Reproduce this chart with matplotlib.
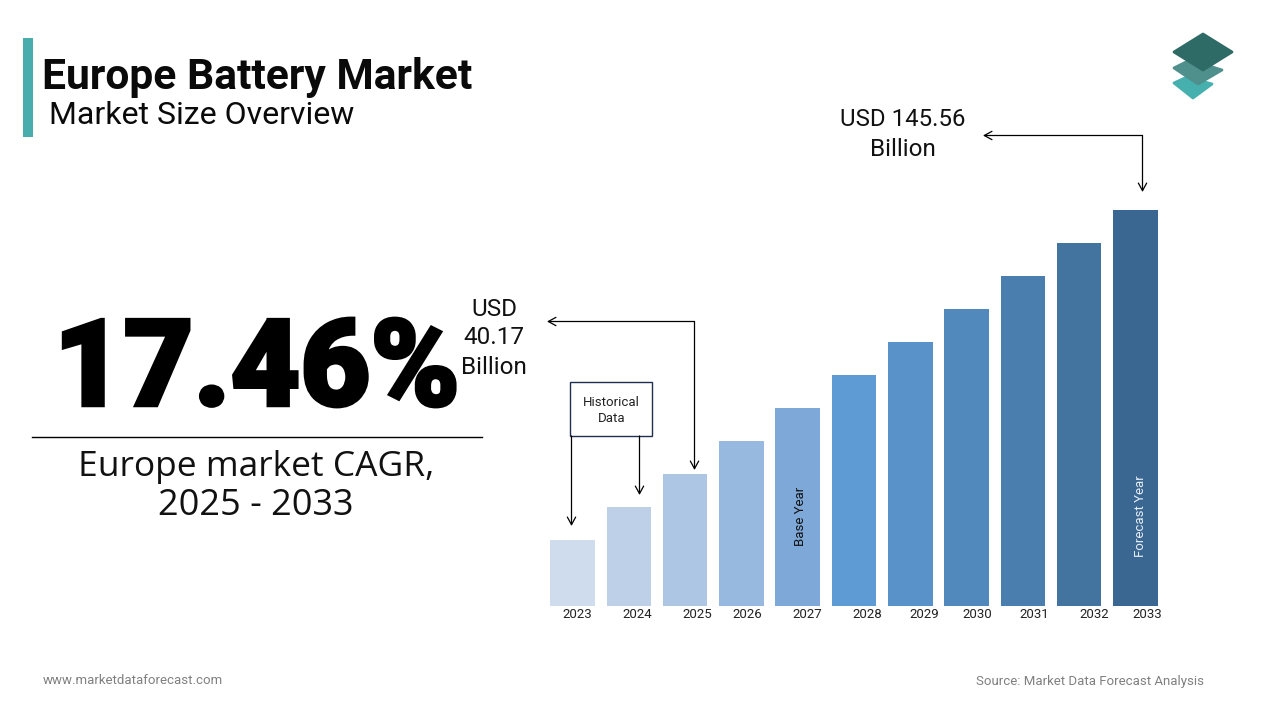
import matplotlib
matplotlib.use('Agg')
import matplotlib.pyplot as plt
import matplotlib.patheffects as pe
from matplotlib.patches import Polygon, Rectangle

plt.rcParams['font.family'] = ['Roboto', 'DejaVu Sans']

years = ['2023', '2024', '2025', '2026', '2027', '2028', '2029', '2030', '2031', '2032', '2033']
# bar heights, the source has no y axis
bar_heights = [66, 99, 132, 165, 198, 231, 264, 297, 330, 363, 396]
bar_colors = ['#CFDCED', '#BDD0E8', '#ADC6E4', '#98B9DF', '#7DA8D8', '#5E9BD5',
              '#5992C8', '#5189BD', '#4A7EAF', '#43739F', '#3A6791']
# year labels sit off centre in the original
year_label_x = [577, 637, 697, 747, 807, 867, 924, 977, 1034, 1094, 1147]

fig = plt.figure(figsize=(12.8, 7.2), dpi=100, facecolor='white')

# Bars
ax = fig.add_axes([540 / 1280, 1 - 606 / 720, 630 / 1280, 406 / 720])
ax.bar(range(len(years)), bar_heights, width=0.79, color=bar_colors)
ax.set_xlim((540 - 572.5) / 56.3, (1170 - 572.5) / 56.3)
ax.set_ylim(0, 406)
ax.axis('off')

# Overlay in pixel coordinates for the text, arrows and logo
ov = fig.add_axes([0, 0, 1, 1], facecolor='none')
ov.set_xlim(0, 1280)
ov.set_ylim(720, 0)
ov.axis('off')

# Header
ov.add_patch(Rectangle((23, 38), 10, 99, color='#4AADAD', lw=0))
ov.text(42, 77, 'Europe Battery Market', fontsize=30.7, fontweight='bold', color='#0A0A0A', va='center', ha='left')
ov.text(49, 115, 'Market Size Overview', fontsize=23, color='#0A0A0A', va='center', ha='left')

# Logo
for pts, col in [
    ([(1174, 83), (1187, 77), (1212, 84), (1193, 98)], '#45B0AE'),
    ([(1174, 68), (1190, 60), (1222, 70), (1198, 84)], '#4F8F8C'),
    ([(1174, 52), (1203, 34), (1232, 52), (1203, 70)], '#2F6B66'),
]:
    ov.add_patch(Polygon(pts, closed=True, fc=col, ec=col, lw=2, joinstyle='round'))

# Left block, stroke thickens the heaviest installed weight
cagr = ov.text(257, 373, '17.46%', family=['Roboto', 'DejaVu Sans'], fontsize=87, fontweight='black', color='black', ha='center', va='center')
cagr.set_path_effects([pe.withStroke(linewidth=2.5, foreground='black', joinstyle='miter')])
ov.plot([32, 482], [436.5, 436.5], color='black', lw=1)
ov.text(256, 467, 'Europe market CAGR,', family=['Open Sans', 'DejaVu Sans'], fontsize=25.5, color='#111111', ha='center', va='center')
ov.text(256, 506, '2025 - 2033', family=['Open Sans', 'DejaVu Sans'], fontsize=26, color='#111111', ha='center', va='center')

# Value callouts
for y, s in zip([310, 338, 367], ['USD', '40.17', 'Billion']):
    ov.text(494, y, s, fontsize=17.5, color='#111111', ha='center', va='center')
ov.text(903, 120, 'USD 145.56', fontsize=17.3, color='#111111', ha='center', va='center')
ov.text(903, 149, 'Billion', fontsize=17.5, color='#111111', ha='center', va='center')

arrow = dict(arrowstyle='->,head_length=0.55,head_width=0.3', color='black', lw=0.9, shrinkA=0, shrinkB=0)
ov.annotate('', xy=(547, 321.5), xytext=(694.5, 321.5), arrowprops=arrow)
ov.annotate('', xy=(694.5, 470), xytext=(694.5, 321.5), arrowprops=arrow)
ov.annotate('', xy=(983, 135.5), xytext=(1142.5, 135.5), arrowprops=arrow)
ov.annotate('', xy=(1142.5, 192), xytext=(1142.5, 135.5), arrowprops=arrow)
ov.annotate('', xy=(571.5, 526), xytext=(571.5, 436), arrowprops=arrow)
ov.annotate('', xy=(639.5, 495), xytext=(639.5, 436), arrowprops=arrow)

# Historical data box
ov.add_patch(Rectangle((570, 382), 82, 54, fc='white', ec='#1F2F4F', lw=1))
ov.text(611.5, 402, 'Historical', fontsize=9.5, color='#222222', ha='center', va='center')
ov.text(611.5, 418, 'Data', fontsize=9.5, color='#222222', ha='center', va='center')

# Year labels
for x, s in zip(year_label_x, years):
    ov.text(x, 614, s, fontsize=9.5, color='#222222', ha='center', va='center')

ov.text(801, 516, 'Base Year', fontsize=9.5, color='#111111', rotation=90, ha='center', va='center')
ov.text(1140, 516, 'Forecast Year', fontsize=9.5, color='#E8EEF5', rotation=90, ha='center', va='center')

# Footer
ov.text(43, 680, 'www.marketdataforecast.com', fontsize=9.5, color='#808080', ha='left', va='center')
ov.text(1204, 681, 'Source: Market Data Forecast Analysis', fontsize=9.5, color='#808080', ha='right', va='center')

fig.savefig('out.png', dpi=100)
